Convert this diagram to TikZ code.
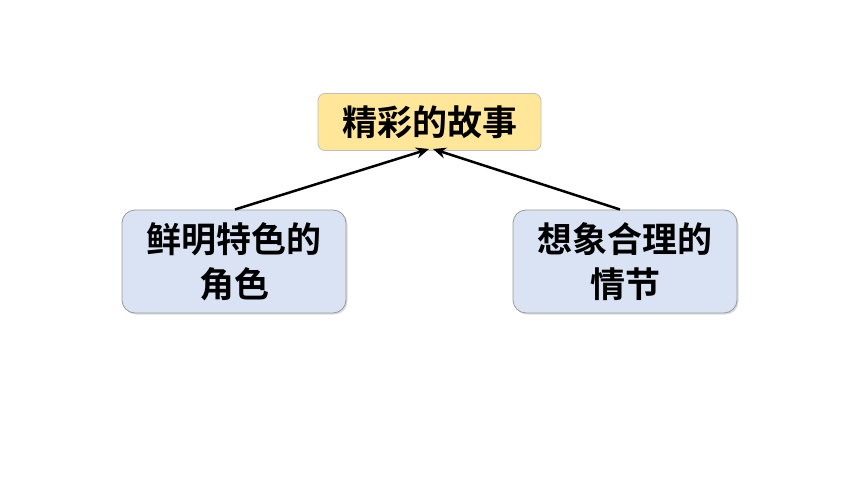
\documentclass[tikz,border=0pt]{standalone}
\usepackage{fontspec}
\newfontfamily\cjk{Noto Sans CJK SC Bold}
\usetikzlibrary{arrows.meta,shadows}
\begin{document}
\begin{tikzpicture}[x=1pt,y=-1pt,
  topbox/.style={draw=black!25,line width=0.8pt,fill=yellowfill,rounded corners=7pt,
    minimum width=223pt,minimum height=57pt,inner sep=0pt,font=\cjk\fontsize{35}{45}\selectfont},
  sidebox/.style={draw=black!40,line width=0.8pt,fill=bluefill,rounded corners=13pt,
    minimum width=224pt,minimum height=103pt,inner sep=0pt,align=center,
    drop shadow={shadow xshift=1.5pt,shadow yshift=-1.5pt,opacity=0.35,fill=black!40},
    font=\cjk\fontsize{35}{45}\selectfont},
  conn/.style={line width=2.5pt,-{Stealth[length=13pt,width=11pt]}}]
\definecolor{yellowfill}{HTML}{FFE699}
\definecolor{bluefill}{HTML}{DAE3F3}
\useasboundingbox (0,0) rectangle (860,484);
\node[topbox] (top) at (429.5,122) {精彩的故事};
\node[sidebox] (left) at (234,261.5) {鲜明特色的\\角色};
\node[sidebox] (right) at (625,261.5) {想象合理的\\情节};
\coordinate (tl) at (429,149);
\coordinate (tr) at (433,149);
\draw[conn] (235,209.5) -- (tl);
\draw[conn] (620,209.5) -- (tr);
\end{tikzpicture}
\end{document}
